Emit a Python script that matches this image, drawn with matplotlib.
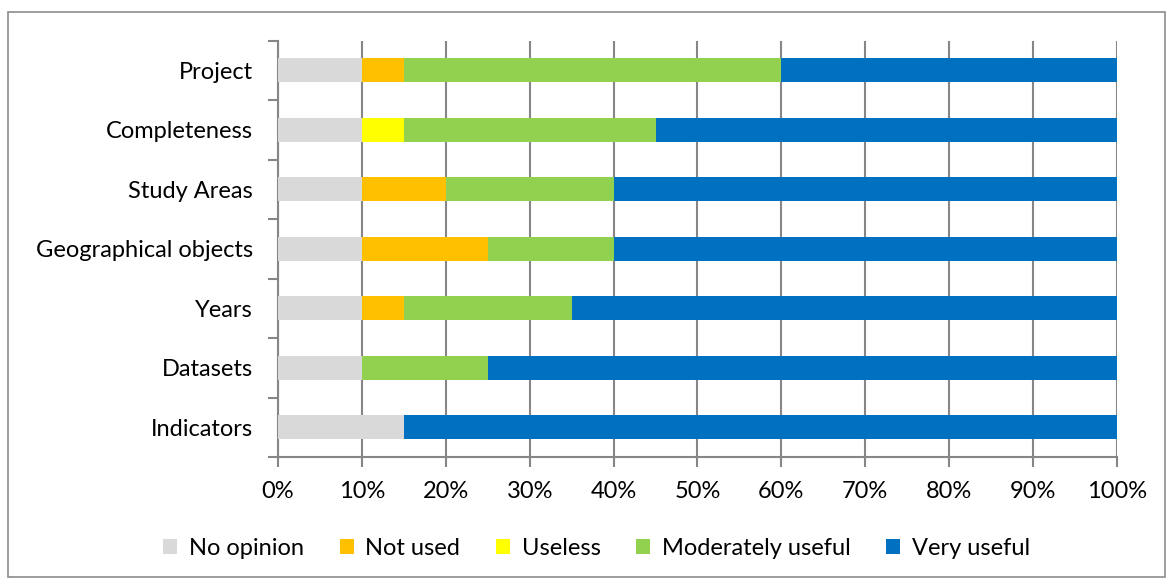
import matplotlib.pyplot as plt
from matplotlib.patches import Rectangle
import numpy as np

plt.rcParams.update({"font.family": ["Lato", "DejaVu Sans"]})

CATEGORIES = ["Project", "Completeness", "Study Areas", "Geographical objects",
              "Years", "Datasets", "Indicators"]
SERIES = ["No opinion", "Not used", "Useless", "Moderately useful", "Very useful"]
COLORS = ["#D9D9D9", "#FFC000", "#FFFF00", "#92D050", "#0070C0"]

no_opinion = [10, 10, 10, 10, 10, 10, 15]
not_used = [5, 0, 10, 15, 5, 0, 0]
useless = [0, 5, 0, 0, 0, 0, 0]
moderately = [45, 30, 20, 15, 20, 15, 0]
very_useful = [40, 55, 60, 60, 65, 75, 85]

values = np.array([no_opinion, not_used, useless, moderately, very_useful]) / 100.0

fig = plt.figure(figsize=(11.7, 5.79), dpi=100)
ax = fig.add_axes([0.2376, 0.2107, 0.7171, 0.7193])

# outer border of the chart
fig.patches.append(Rectangle((0.007, 0.004), 0.989, 0.976, transform=fig.transFigure,
                             fill=False, edgecolor="#8c8c8c", lw=1.2))

grid_c = "#868686"
fs = 17
y = np.arange(len(CATEGORIES))
left = np.zeros(len(CATEGORIES))
for vals, name, col in zip(values, SERIES, COLORS):
    ax.barh(y, vals, left=left, height=0.4, color=col, label=name, zorder=3)
    left += vals

ax.set_xlim(0, 1)
ax.set_ylim(len(CATEGORIES) - 0.5, -0.5)
ax.set_xticks(np.linspace(0, 1, 11))
ax.set_xticklabels([f"{int(v)}%" for v in np.linspace(0, 100, 11)], fontsize=fs)
ax.xaxis.grid(True, color=grid_c, lw=1.5, zorder=0)

ax.set_yticks(np.arange(len(CATEGORIES) + 1) - 0.5)
ax.set_yticklabels([])
ax.set_yticks(y, minor=True)
ax.set_yticklabels(CATEGORIES, minor=True, fontsize=fs)
ax.tick_params(axis="y", which="minor", length=0, pad=18)
ax.tick_params(axis="y", which="major", length=7, width=1.5, color=grid_c)
ax.tick_params(axis="x", length=7, width=1.5, color=grid_c, pad=10)

for s in ["top", "right"]:
    ax.spines[s].set_visible(False)
for s in ["left", "bottom"]:
    ax.spines[s].set_color(grid_c)
    ax.spines[s].set_linewidth(1.5)

fig.legend(loc="center", bbox_to_anchor=(0.51, 0.053), ncol=5, frameon=False,
           fontsize=fs, handlelength=0.6, handleheight=0.6, handletextpad=0.5,
           columnspacing=1.5)

fig.savefig("out.png", dpi=100)
